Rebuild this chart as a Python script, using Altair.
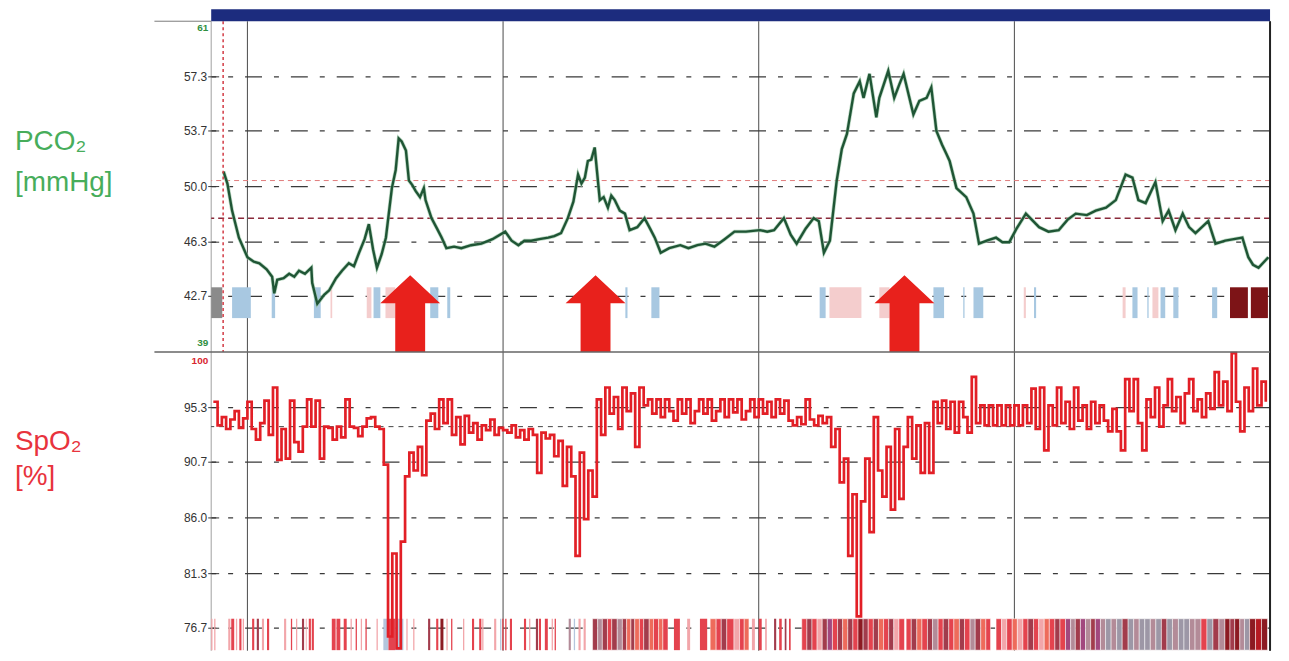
import altair as alt
import pandas as pd

# ---------------- data (time in minutes from the first hour line) ----------------
pco2_points = [
    (-5.6, 51.0), (-4.7, 50.2), (-3.6, 48.4), (-2.0, 46.6), (0.0, 45.3), (1.5, 45.0), (2.8, 44.9),
    (4.5, 44.5), (5.8, 44.0), (6.3, 42.9), (7.0, 43.8), (8.5, 43.9), (9.8, 44.2), (11.0, 44.0),
    (12.1, 44.4), (13.5, 44.2), (15.0, 44.6), (15.2, 43.6), (16.4, 42.2), (18.0, 42.8), (19.2, 43.1),
    (20.8, 43.9), (22.2, 44.4), (23.8, 44.9), (25.0, 44.7), (26.2, 45.6), (27.5, 46.5), (28.5, 47.5),
    (29.5, 45.8), (30.4, 44.6), (31.5, 45.5), (32.5, 46.6), (33.9, 49.9), (34.8, 51.1), (35.5, 53.2),
    (36.2, 53.0), (37.2, 52.4), (37.9, 50.4), (38.7, 50.1), (39.5, 49.7), (40.5, 49.3), (41.4, 49.9),
    (41.8, 49.1), (43.2, 47.9), (44.5, 47.2), (45.6, 46.6), (46.7, 45.9), (48.5, 46.0), (50.2, 45.9),
    (52.5, 46.1), (54.9, 46.2), (57.5, 46.5), (60.5, 47.0), (62.0, 46.4), (63.6, 46.1), (65.0, 46.4),
    (66.6, 46.4), (68.5, 46.5), (70.6, 46.6), (72.0, 46.7), (73.6, 46.9), (75.2, 47.9), (76.5, 49.0),
    (77.6, 50.8), (78.4, 50.2), (79.2, 50.6), (79.9, 51.7), (80.7, 51.8), (81.5, 52.6), (82.7, 49.1),
    (83.6, 49.3), (84.6, 48.6), (85.4, 49.4), (86.2, 49.1), (87.4, 48.4), (88.6, 48.2), (89.7, 47.1),
    (91.5, 47.3), (93.2, 47.9), (94.5, 47.2), (95.6, 46.6), (97.0, 45.6), (99.0, 45.9), (101.6, 46.1),
    (103.5, 45.9), (105.6, 46.1), (107.5, 46.2), (109.6, 46.0), (112.0, 46.5), (114.3, 47.0),
    (117.0, 47.0), (120.3, 47.1), (122.0, 47.0), (123.6, 47.1), (125.9, 47.9), (127.5, 46.8),
    (128.9, 46.2), (131.0, 47.2), (132.9, 47.9), (134.1, 47.7), (135.3, 45.6), (136.7, 46.4),
    (138.3, 50.4), (139.5, 52.5), (140.7, 53.5), (142.3, 56.2), (143.7, 57.0), (144.6, 55.9),
    (146.0, 57.5), (147.6, 54.6), (148.3, 55.9), (150.4, 57.7), (151.8, 55.9), (153.0, 56.8),
    (154.0, 57.5), (156.3, 54.8), (157.7, 55.7), (159.4, 55.9), (160.5, 56.6), (161.7, 53.7),
    (163.0, 52.8), (164.0, 52.2), (164.8, 51.7), (166.4, 49.9), (168.7, 49.3), (170.4, 48.2),
    (171.7, 46.2), (173.5, 46.4), (175.7, 46.6), (177.2, 46.3), (178.8, 46.3), (180.5, 47.2),
    (182.7, 48.2), (185.8, 47.3), (188.0, 47.0), (190.4, 47.1), (192.5, 47.8), (194.4, 48.2),
    (197.0, 48.1), (199.1, 48.4), (201.5, 48.6), (203.8, 49.1), (206.1, 50.8), (207.7, 50.6),
    (209.1, 49.1), (210.8, 48.9), (213.1, 50.3), (214.8, 47.7), (216.2, 48.4), (217.8, 47.1),
    (219.5, 48.2), (221.0, 47.3), (222.5, 46.9), (225.5, 47.7), (227.2, 46.2), (229.5, 46.4),
    (231.5, 46.5), (233.5, 46.6), (234.9, 45.3), (236.0, 44.8), (237.3, 44.6), (239.6, 45.3),
]

spo2_first_minute = -8
spo2_values = [
    95.8, 93.8, 94.5, 93.5, 94.3, 95.0, 93.6, 94.4,
    95.8, 93.5, 92.6, 94.0, 95.9, 93.0, 97.0, 90.9, 93.5, 91.0, 95.9,
    92.4, 91.6, 93.7, 96.0, 93.7, 95.9, 91.0, 93.7, 93.6, 92.6,
    93.7, 92.8, 96.0, 93.7, 93.6, 92.9, 93.7, 94.4, 94.5, 93.7, 93.5,
    90.5, 76.0, 83.0, 75.0, 84.0, 89.5, 91.5, 90.0, 92.0, 89.6, 94.2,
    94.8, 93.5, 96.0, 94.0, 96.0, 93.0, 94.5, 92.2, 94.6, 93.2, 94.0, 92.6, 93.8, 93.4, 94.3, 93.0, 93.6, 93.4,
    93.2, 93.8, 92.8, 93.4, 92.6, 93.5, 93.0, 89.8, 93.2, 92.7,
    93.0, 91.2, 92.5, 88.7, 92.0, 89.5, 82.8, 91.5, 85.9, 90.0, 87.8,
    96.0, 93.0, 97.0, 94.8, 96.2, 93.5, 97.0, 95.0, 96.5, 92.0, 97.0, 95.5,
    96.0, 94.8, 96.0, 94.5, 96.0, 95.0, 94.2, 96.0, 94.8, 96.0, 94.0, 95.0, 96.0, 94.8, 96.0, 94.2,
    95.0, 96.0, 94.5, 96.0, 94.9, 96.0, 94.3, 95.0, 96.0, 94.5, 96.0,
    94.8, 95.8, 94.5, 96.0, 94.8, 95.9, 94.2, 93.8, 94.5, 93.9, 96.0, 94.3, 93.8, 94.6, 94.0,
    94.5, 92.0, 93.5, 89.0, 91.0, 82.8, 88.0, 77.7, 87.4, 91.0, 84.8, 94.5, 90.0, 87.8, 92.0, 86.7,
    93.5, 87.6, 92.0, 94.5, 91.0, 93.8, 89.8, 94.0, 89.8,
    95.8, 94.0, 95.9, 93.5, 95.8,
    93.2, 95.8, 94.5, 93.2, 97.9, 94.0, 95.5, 93.8, 95.5, 93.8, 95.5, 93.8, 95.5, 93.8, 95.5,
    93.8, 95.5, 94.0, 96.9, 93.5, 97.0, 91.7, 95.5, 93.8, 97.0, 94.0, 95.8, 93.5, 97.0, 94.2, 95.5,
    93.5, 95.8, 94.0, 95.5,
    94.2, 93.3, 95.2, 93.3, 91.7, 97.7, 95.0, 97.7, 94.0, 91.7,
    96.0, 94.5, 97.0, 93.7, 95.5, 97.7, 95.0, 96.2, 94.0, 96.5, 97.7, 95.0, 96.0, 94.5, 96.5, 95.2,
    98.3, 95.5, 97.5, 95.0, 99.9, 95.8, 93.3, 97.0, 95.0, 98.6, 95.5, 97.5, 95.8,
]

# respiratory events in the PCO2 panel: start, end (minutes), kind
event_start = [-8.5, -3.6, 5.7, 15.6, 19.5, 28.0, 29.6, 32.4, 42.9, 46.9, 88.7, 94.8, 134.3, 136.6,
               148.3, 161.0, 168.0, 170.4, 182.2, 184.6, 205.4, 207.7, 211.2, 212.4, 214.3, 217.3,
               226.4, 230.6, 235.5]
event_end = [-5.9, 0.8, 6.5, 17.2, 19.9, 29.1, 31.2, 34.7, 44.8, 47.6, 89.2, 96.7, 135.7, 144.1,
             150.7, 163.5, 168.3, 172.7, 182.7, 185.1, 206.1, 208.9, 211.5, 213.8, 215.4, 218.5,
             227.6, 234.8, 239.5]
event_kind = ["g", "b", "b", "b", "p", "p", "b", "p", "b", "b", "b", "b", "b", "p",
              "p", "b", "b", "b", "p", "b", "p", "b", "b", "p", "b", "b",
              "b", "m", "m"]

# event strip in the SpO2 panel: isolated markers
strip_sparse = [
    (-8.5, -8.2, "p"), (-7.8, -7.5, "p"), (-4.5, -4.0, "p"), (-3.8, -3.1, "r"), (-2.7, -2.4, "p"),
    (-1.9, -1.4, "r"), (-1.1, -0.8, "p"), (1.1, 1.6, "r"), (2.2, 2.7, "d"), (3.4, 3.9, "p"),
    (4.6, 5.1, "r"), (8.6, 9.1, "p"), (10.2, 10.5, "r"), (11.4, 11.7, "p"), (12.8, 13.3, "d"),
    (13.7, 13.9, "p"), (14.4, 14.9, "r"), (15.1, 15.6, "r"), (19.8, 20.7, "r"), (20.9, 21.8, "r"),
    (22.6, 23.3, "r"), (24.2, 24.5, "p"), (25.4, 25.7, "r"), (26.6, 26.9, "p"), (27.7, 28.0, "r"),
    (30.3, 30.6, "p"), (31.9, 33.1, "b"), (33.1, 34.7, "r"), (34.7, 36.6, "b"), (37.3, 37.6, "p"),
    (38.9, 39.2, "p"), (42.4, 42.9, "d"), (44.3, 44.8, "r"), (45.3, 46.0, "m"), (46.7, 47.0, "p"),
    (47.8, 48.1, "r"), (50.6, 50.9, "p"), (52.7, 53.2, "r"), (54.4, 54.9, "r"), (55.1, 55.4, "p"),
    (57.9, 58.4, "p"), (59.3, 59.6, "b"), (59.8, 60.1, "r"), (60.5, 60.8, "r"), (61.6, 62.1, "r"),
    (64.9, 65.4, "r"), (66.1, 66.4, "p"), (67.7, 68.2, "d"), (68.4, 68.9, "r"), (69.8, 70.5, "r"),
    (71.4, 71.7, "p"), (72.1, 72.4, "r"), (75.4, 75.9, "g"), (76.6, 76.9, "b"), (77.7, 78.2, "p"),
    (78.9, 79.4, "p"), (100.1, 101.5, "r"), (103.2, 103.9, "p"), (106.2, 107.9, "r"),
    (118.4, 119.1, "p"), (120.0, 120.7, "r"), (121.5, 121.9, "p"), (123.6, 124.1, "d"),
    (124.8, 125.4, "r"), (126.1, 126.5, "d"), (127.1, 127.5, "r"),
]
# event strip: dense runs (boundaries, colour codes)
dense_runs = [
    ([81.0, 82.2, 83.3, 84.5, 85.5, 86.8, 88.0, 89.0, 90.0, 90.9], "dgdrdgdcd"),
    ([90.9, 92.0, 93.0, 94.3, 95.3, 96.5, 97.5, 98.7], "crdcrcr"),
    ([108.6, 110.0, 111.2, 112.5, 114.2, 115.5, 116.6, 117.7], "crdrprc"),
    ([130.1, 131.3, 132.5, 133.7, 134.9, 136.1, 137.3, 138.5, 139.7, 140.9, 142.1, 143.3, 144.5,
      145.7, 146.9, 148.1, 149.3, 150.5, 151.7, 152.9, 154.2], "rdrpdvrdcdrmdrdcrdpr"),
    ([154.6, 155.8, 157.1, 158.3, 159.6, 160.8, 162.1, 163.3, 164.6, 165.8, 167.1, 168.3, 169.6,
      170.8, 172.1, 173.3, 174.4], "rdcrdgrdrcdrgdcr"),
    ([175.7, 177.0, 178.2, 179.5, 180.7, 182.0, 183.2, 184.5, 185.7, 187.0, 188.2, 189.5, 190.7,
      192.0], "rprcprdrpcrdr"),
    ([192.0, 193.2, 194.3, 195.5, 196.7, 197.9, 199.0, 200.2, 201.4], "vgdvgdvg"),
    ([201.4, 202.7, 204.0, 205.3, 206.7, 208.0, 209.3, 210.6, 211.9, 213.2, 214.5, 215.8, 217.1,
      218.5, 219.8, 221.1, 222.4], "sgsdsgssgsdsgssg"),
    ([222.4, 223.8, 225.2, 226.6, 228.0, 229.4], "grsdg"),
    ([229.4, 230.6, 231.7, 232.9], "mdm"),
    ([232.9, 234.0, 235.2], "gs"),
    ([235.2, 236.6, 238.0, 239.4], "mRm"),
]

arrow_minutes = [38.2, 81.7, 154.2]
hour_lines = [0, 60, 120, 180, 240]
pco2_ticks = [42.7, 46.3, 50.0, 53.7, 57.3]
spo2_ticks = [76.7, 81.3, 86.0, 90.7, 95.3]
pco2_upper_ref = 50.4
pco2_lower_ref = 47.9
spo2_ref = 93.7
marker_minute = -5.7

# ---------------- styling ----------------
EVENT_COLORS = {"b": "#a8c8e1", "p": "#f4cdcd", "g": "#8b8b8b", "m": "#7d1417"}
STRIP_COLORS = {"p": "#f2a6aa", "r": "#e4434e", "d": "#a23c4c", "g": "#b38b98", "c": "#ee6b5b",
                "m": "#8c1a22", "b": "#b4c6dd", "v": "#a2487e", "s": "#9d97a6", "R": "#b51a22"}
FONT = "Liberation Sans"
W, H1, H2 = 1063, 332, 300
X_MIN, X_MAX = -8.5, 240
ARROW = "M0,-1L0.78,-0.27L0.39,-0.27L0.39,1L-0.39,1L-0.39,-0.27L-0.78,-0.27Z"

xs = alt.Scale(domain=[X_MIN, X_MAX], nice=False, zero=False)
ys1 = alt.Scale(domain=[39, 61], nice=False, zero=False)
ys2 = alt.Scale(domain=[74.8, 100], nice=False, zero=False)

one = alt.Data(values=[{}])
NOAX = dict(axis=None)

# ---------------- tables ----------------
df_pco2 = pd.DataFrame(pco2_points, columns=["t", "pco2"])
df_spo2 = pd.DataFrame({"t": list(range(spo2_first_minute, spo2_first_minute + len(spo2_values))),
                        "spo2": spo2_values})
df_ev = pd.DataFrame({"s": event_start, "e": event_end,
                      "col": [EVENT_COLORS[k] for k in event_kind]})
df_sparse = pd.DataFrame([{"s": s, "e": e, "col": STRIP_COLORS[k]} for s, e, k in strip_sparse])
dense_rows = []
for bounds, codes in dense_runs:
    for s, e, k in zip(bounds[:-1], bounds[1:], codes):
        dense_rows.append({"s": s, "e": e, "col": STRIP_COLORS[k]})
df_dense = pd.DataFrame(dense_rows)
df_hours = pd.DataFrame({"t": hour_lines})


def frame_layers(ticks, yscale):
    """Hour grid, dash-dot value grid, y-axis line, ticks and tick labels."""
    df_t = pd.DataFrame({"v": ticks, "lab": [f"{v:.1f}" for v in ticks]})
    vgrid = alt.Chart(df_hours).mark_rule(color="#4a4a4a", strokeWidth=1).encode(
        x=alt.X("t:Q", scale=xs, **NOAX))
    hgrid = alt.Chart(df_t).mark_rule(color="#3a3a3a", strokeWidth=1.2,
                                      strokeDash=[17, 12, 5, 12]).encode(
        y=alt.Y("v:Q", scale=yscale, **NOAX))
    dom = alt.Chart(pd.DataFrame({"t": [X_MIN]})).mark_rule(color="#a0a0a0", strokeWidth=1).encode(
        x=alt.X("t:Q", scale=xs, **NOAX))
    tck = alt.Chart(df_t).mark_rule(color="#333333", strokeWidth=1).encode(
        x=alt.value(-3), x2=alt.value(8), y=alt.Y("v:Q", scale=yscale, **NOAX))
    lab = alt.Chart(df_t).mark_text(align="right", baseline="middle", dx=-4, fontSize=12,
                                    font=FONT, color="#333333").encode(
        x=alt.value(0), y=alt.Y("v:Q", scale=yscale, **NOAX), text="lab:N")
    return [vgrid, hgrid, dom, tck, lab]


# ---------------- top panel: PCO2 ----------------
blue_bar = alt.Chart(one).mark_rect(color="#1c2c7e").encode(
    x=alt.value(0), x2=alt.value(W), y=alt.value(-12), y2=alt.value(0))
top_left_rule = alt.Chart(one).mark_rule(color="#7a7a7a", strokeWidth=1).encode(
    x=alt.value(-57), x2=alt.value(0), y=alt.value(0))
events = alt.Chart(df_ev).transform_calculate(y0="41.25", y1="43.3").mark_rect().encode(
    x=alt.X("s:Q", scale=xs, **NOAX), x2="e:Q",
    y=alt.Y("y0:Q", scale=ys1, **NOAX), y2="y1:Q",
    color=alt.Color("col:N", scale=None))
ref_hi = alt.Chart(pd.DataFrame({"r": [pco2_upper_ref]})).mark_rule(
    color="#e07a7a", strokeDash=[5, 4], strokeWidth=1).encode(y=alt.Y("r:Q", scale=ys1, **NOAX))
ref_lo = alt.Chart(pd.DataFrame({"r": [pco2_lower_ref]})).mark_rule(
    color="#8a2a3a", strokeDash=[6, 4], strokeWidth=1.5).encode(y=alt.Y("r:Q", scale=ys1, **NOAX))
arrows = alt.Chart(pd.DataFrame({"t": arrow_minutes})).transform_calculate(ay="41.55").mark_point(
    shape=ARROW, filled=True, size=5929, color="#e8211c", opacity=1, strokeWidth=0).encode(
    x=alt.X("t:Q", scale=xs, **NOAX), y=alt.Y("ay:Q", scale=ys1, **NOAX))
pco2_halo = alt.Chart(df_pco2).mark_line(color="#9cc8a8", strokeWidth=3.8, opacity=0.7).encode(
    x=alt.X("t:Q", scale=xs, **NOAX), y=alt.Y("pco2:Q", scale=ys1, **NOAX))
pco2_line = alt.Chart(df_pco2).mark_line(color="#1f5535", strokeWidth=2.4).encode(
    x=alt.X("t:Q", scale=xs, **NOAX), y=alt.Y("pco2:Q", scale=ys1, **NOAX))
marker = alt.Chart(pd.DataFrame({"t": [marker_minute]})).mark_rule(
    color="#d23a45", strokeDash=[3, 3], strokeWidth=1.5).encode(x=alt.X("t:Q", scale=xs, **NOAX))
right_edge1 = alt.Chart(pd.DataFrame({"t": [X_MAX]})).mark_rule(color="#222222", strokeWidth=2).encode(
    x=alt.X("t:Q", scale=xs, **NOAX))
lab61 = alt.Chart(pd.DataFrame({"v": [61], "txt": ["61"]})).mark_text(
    align="right", baseline="top", dx=-3, dy=2, fontSize=10, fontWeight="bold", font=FONT,
    color="#2f8f3f").encode(x=alt.value(0), y=alt.Y("v:Q", scale=ys1, **NOAX), text="txt:N")
lab39 = alt.Chart(pd.DataFrame({"v": [39], "txt": ["39"]})).mark_text(
    align="right", baseline="bottom", dx=-3, dy=-4, fontSize=10, fontWeight="bold", font=FONT,
    color="#2f8f3f").encode(x=alt.value(0), y=alt.Y("v:Q", scale=ys1, **NOAX), text="txt:N")
t_pco2 = alt.Chart(one).mark_text(text="PCO₂", align="left", baseline="alphabetic", fontSize=28,
                                  font=FONT, color="#47ad5b").encode(x=alt.value(-197), y=alt.value(129))
t_mmhg = alt.Chart(one).mark_text(text="[mmHg]", align="left", baseline="alphabetic", fontSize=28,
                                  font=FONT, color="#47ad5b").encode(x=alt.value(-197), y=alt.value(170))

top = alt.layer(*frame_layers(pco2_ticks, ys1), events, ref_hi, ref_lo, arrows, pco2_halo,
                pco2_line, marker, right_edge1, blue_bar, top_left_rule, lab61, lab39,
                t_pco2, t_mmhg).properties(width=W, height=H1)

# ---------------- bottom panel: SpO2 ----------------
sep_rule = alt.Chart(one).mark_rule(color="#666666", strokeWidth=1.5).encode(
    x=alt.value(-57), x2=alt.value(W), y=alt.value(0))
sparse = alt.Chart(df_sparse).transform_calculate(y0="74.85", y1="77.5").mark_rect().encode(
    x=alt.X("s:Q", scale=xs, **NOAX), x2="e:Q",
    y=alt.Y("y0:Q", scale=ys2, **NOAX), y2="y1:Q",
    color=alt.Color("col:N", scale=None))
dense = alt.Chart(df_dense).transform_calculate(y0="74.85", y1="77.5").mark_rect(
    stroke="white", strokeWidth=0.5).encode(
    x=alt.X("s:Q", scale=xs, **NOAX), x2="e:Q",
    y=alt.Y("y0:Q", scale=ys2, **NOAX), y2="y1:Q",
    color=alt.Color("col:N", scale=None))
ref_spo2 = alt.Chart(pd.DataFrame({"r": [spo2_ref]})).mark_rule(
    color="#444444", strokeDash=[5, 5], strokeWidth=1).encode(y=alt.Y("r:Q", scale=ys2, **NOAX))
spo2_line = alt.Chart(df_spo2).mark_line(color="#e21f26", strokeWidth=2.7,
                                         interpolate="step-after").encode(
    x=alt.X("t:Q", scale=xs, **NOAX), y=alt.Y("spo2:Q", scale=ys2, **NOAX))
right_edge2 = alt.Chart(pd.DataFrame({"t": [X_MAX]})).mark_rule(color="#222222", strokeWidth=2).encode(
    x=alt.X("t:Q", scale=xs, **NOAX))
lab100 = alt.Chart(pd.DataFrame({"v": [100], "txt": ["100"]})).mark_text(
    align="right", baseline="top", dx=-3, dy=4, fontSize=10, fontWeight="bold", font=FONT,
    color="#d8262f").encode(x=alt.value(0), y=alt.Y("v:Q", scale=ys2, **NOAX), text="txt:N")
t_spo2 = alt.Chart(one).mark_text(text="SpO₂", align="left", baseline="alphabetic", fontSize=28,
                                  font=FONT, color="#e8333d").encode(x=alt.value(-197), y=alt.value(98))
t_pct = alt.Chart(one).mark_text(text="[%]", align="left", baseline="alphabetic", fontSize=28,
                                 font=FONT, color="#e8333d").encode(x=alt.value(-197), y=alt.value(134))

bottom = alt.layer(*frame_layers(spo2_ticks, ys2), sparse, dense, ref_spo2, spo2_line,
                   right_edge2, sep_rule, lab100, t_spo2, t_pct).properties(width=W, height=H2)

chart = alt.vconcat(top, bottom, spacing=0, bounds="flush").resolve_scale(
    y="independent").properties(
    padding={"left": 7, "right": 5, "top": 0, "bottom": 0}).configure_view(stroke=None)

chart.save("out.html", embed_options={"renderer": "svg", "actions": False})
